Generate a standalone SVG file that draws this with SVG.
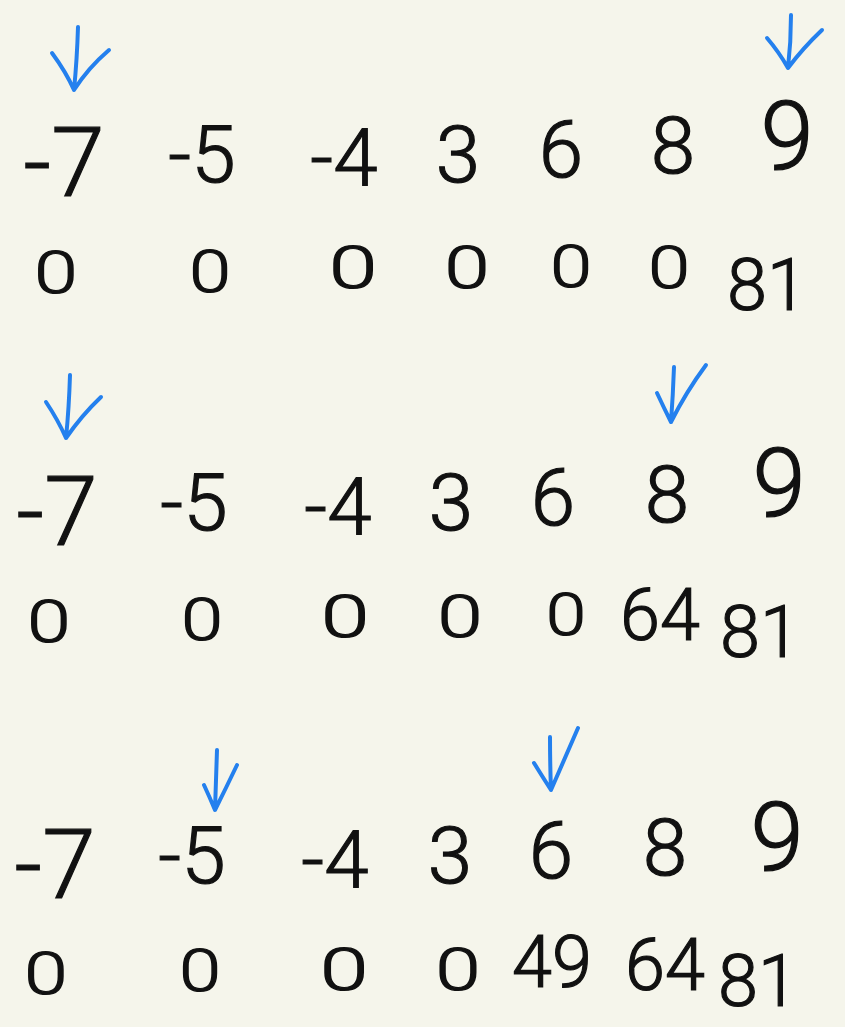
<svg xmlns="http://www.w3.org/2000/svg" width="845" height="1027" viewBox="0 0 845 1027">
<style>
.n{font-family:Roboto,"Liberation Sans",Arial,sans-serif;font-weight:300;font-size:80px;fill:#111;stroke:#111;stroke-width:1.2;text-anchor:middle}
.big{font-size:96px}
.v{font-size:60px}
.vv{font-size:72px}
.arr{fill:none;stroke:#2480ee;stroke-width:4;stroke-linecap:round;stroke-linejoin:round}
</style>
<rect width="845" height="1027" fill="#f5f5eb"/>
<g id="row1-numbers">
<text class="n big" x="64" y="196">-7</text>
<text class="n" x="202" y="182">-5</text>
<text class="n" x="344" y="185">-4</text>
<text class="n" x="458" y="182">3</text>
<text class="n" x="561" y="177">6</text>
<text class="n" x="673" y="173">8</text>
<text class="n big" x="787" y="169">9</text>
</g>
<g id="row1-values">
<text class="n v" transform="translate(56,293) scale(1.3,1)">0</text>
<text class="n v" transform="translate(210,292) scale(1.25,1)">0</text>
<text class="n v" transform="translate(353,288) scale(1.45,1)">0</text>
<text class="n v" transform="translate(467,288) scale(1.35,1)">0</text>
<text class="n v" transform="translate(571,287) scale(1.25,1)">0</text>
<text class="n v" transform="translate(669,288) scale(1.25,1)">0</text>
<text class="n vv" x="767" y="310">81</text>
</g>
<g id="row2-numbers">
<text class="n big" x="57" y="545">-7</text>
<text class="n" x="194" y="530">-5</text>
<text class="n" x="338" y="534">-4</text>
<text class="n" x="451" y="530">3</text>
<text class="n" x="553" y="525">6</text>
<text class="n" x="667" y="522">8</text>
<text class="n big" x="779" y="516">9</text>
</g>
<g id="row2-values">
<text class="n v" transform="translate(49,642) scale(1.3,1)">0</text>
<text class="n v" transform="translate(202,640) scale(1.25,1)">0</text>
<text class="n v" transform="translate(345,637) scale(1.45,1)">0</text>
<text class="n v" transform="translate(460,637) scale(1.35,1)">0</text>
<text class="n v" transform="translate(566,635) scale(1.2,1)">0</text>
<text class="n vv" x="660" y="640">64</text>
<text class="n vv" x="760" y="657">81</text>
</g>
<g id="row3-numbers">
<text class="n big" x="55" y="898">-7</text>
<text class="n" x="192" y="883">-5</text>
<text class="n" x="335" y="887">-4</text>
<text class="n" x="450" y="883">3</text>
<text class="n" x="551" y="878">6</text>
<text class="n" x="665" y="875">8</text>
<text class="n big" x="777" y="870">9</text>
</g>
<g id="row3-values">
<text class="n v" transform="translate(46,994) scale(1.3,1)">0</text>
<text class="n v" transform="translate(200,991) scale(1.25,1)">0</text>
<text class="n v" transform="translate(344,990) scale(1.45,1)">0</text>
<text class="n v" transform="translate(458,990) scale(1.35,1)">0</text>
<text class="n vv" x="552" y="987">49</text>
<text class="n vv" x="665" y="990">64</text>
<text class="n vv" x="758" y="1006">81</text>
</g>
<g id="arrows">
<path class="arr" d="M78 27 Q77 60 74 90 M52 53 Q66 72 74 90 Q88 68 109 50"/>
<path class="arr" d="M791 15 Q791 42 788 68 M767 38 Q779 52 788 68 Q803 48 822 30"/>
<path class="arr" d="M70 375 Q69 408 66 438 M46 402 Q58 420 66 438 Q82 415 101 397"/>
<path class="arr" d="M674 367 Q673 395 671 422 M657 393 Q664 408 671 422 Q686 392 706 365"/>
<path class="arr" d="M217 750 Q216 780 215 810 M204 785 Q210 798 215 810 Q226 788 237 765"/>
<path class="arr" d="M550 737 Q550 764 551 790 M534 763 Q542 776 551 790 Q564 760 578 728"/>
</g>
</svg>
